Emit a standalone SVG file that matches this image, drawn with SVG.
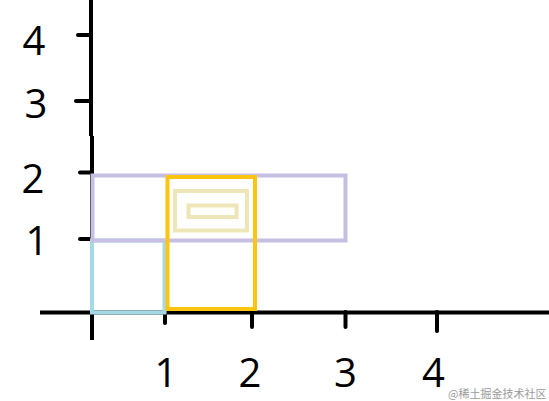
<svg xmlns="http://www.w3.org/2000/svg" width="549" height="401" viewBox="0 0 549 401">
  <style>
    .axis { stroke: #000; stroke-width: 4; fill: none; stroke-linecap: butt; }
    .tick { stroke: #000; stroke-width: 4; stroke-linecap: round; }
    .lbl { font-family: "Open Sans", "Liberation Sans", sans-serif; font-size: 40px; fill: #000; text-anchor: middle; }
    .box { fill: none; stroke-width: 4; }
    .wm { font-family: "Noto Sans CJK SC", "Liberation Sans", sans-serif; font-size: 11px; fill: #9a9a9a; }
  </style>
  <rect width="549" height="401" fill="#fff"/>
  <g id="axes">
    <line class="axis" x1="91" y1="0" x2="91" y2="136"/>
    <line class="axis" x1="92" y1="136" x2="92" y2="340"/>
    <line class="axis" x1="40" y1="312.5" x2="549" y2="312.5"/>
    <line class="tick" x1="78" y1="35" x2="91" y2="35"/>
    <line class="tick" x1="76" y1="101" x2="91" y2="101"/>
    <line class="tick" x1="80" y1="172.5" x2="92" y2="172.5"/>
    <line class="tick" x1="80" y1="239" x2="92" y2="239"/>
    <line class="tick" x1="165" y1="312" x2="165" y2="323"/>
    <line class="tick" x1="252" y1="312" x2="252" y2="327"/>
    <line class="tick" x1="345.5" y1="312" x2="345.5" y2="327"/>
    <line class="tick" x1="437" y1="312" x2="437" y2="331"/>
    <text class="lbl" x="34" y="55">4</text>
    <text class="lbl" x="36" y="118">3</text>
    <text class="lbl" x="33" y="193">2</text>
    <text class="lbl" x="37" y="255">1</text>
    <text class="lbl" x="166" y="387">1</text>
    <text class="lbl" x="250" y="387">2</text>
    <text class="lbl" x="345.5" y="387">3</text>
    <text class="lbl" x="433.5" y="387">4</text>
  </g>
  <g id="rect-cyan"><rect class="box" x="92" y="240.5" width="72.5" height="72" stroke="#a3dae6"/></g>
  <g id="rect-purple"><rect class="box" x="92.5" y="175.5" width="253" height="65" stroke="#c6bfe3"/></g>
  <g id="rect-gold"><rect class="box" x="167.5" y="177" width="87.5" height="132" stroke="#ffc410"/></g>
  <g id="rect-yellow-outer"><rect class="box" x="175" y="191" width="72" height="39.5" stroke="#efe6b8"/></g>
  <g id="rect-yellow-inner"><rect class="box" x="188.5" y="205.5" width="48" height="11.5" stroke="#efe6b8"/></g>
  <text class="wm" x="448" y="398">@稀土掘金技术社区</text>
</svg>
